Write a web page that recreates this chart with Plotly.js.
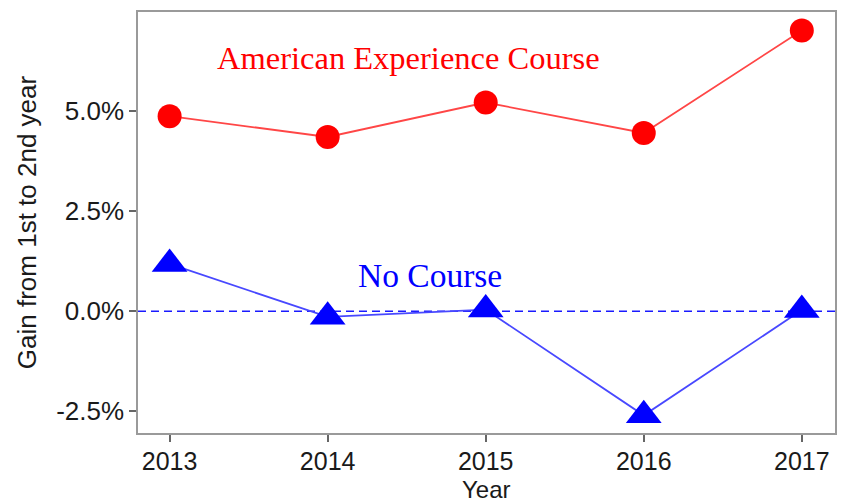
<!DOCTYPE html>
<html>
<head>
<meta charset="utf-8">
<script src="https://cdn.plot.ly/plotly-3.0.1.min.js"></script>
<style>html,body{margin:0;padding:0;background:#fff}#chart{width:847px;height:504px}</style>
</head>
<body>
<div id="chart"></div>
<script>
const years = [2013, 2014, 2015, 2016, 2017];
const courseGain = [4.87, 4.35, 5.21, 4.45, 7.01];
const noCourseGain = [1.18, -0.14, 0.04, -2.6, 0.03];
const yTickVals = [-2.5, 0, 2.5, 5];
const yTickText = ['-2.5%', '0.0%', '2.5%', '5.0%'];
const courseLabel = 'American Experience Course';
const noCourseLabel = 'No Course';
const xTitle = 'Year';
const yTitle = 'Gain from 1st to 2nd year';

const traces = [
  {x: years, y: courseGain, type: 'scatter', mode: 'lines+markers', name: courseLabel,
   line: {color: '#ff4646', width: 1.8},
   marker: {color: '#ff0000', size: 24, symbol: 'circle'}},
  {x: years, y: noCourseGain, type: 'scatter', mode: 'lines+markers', name: noCourseLabel,
   line: {color: '#4848ff', width: 1.8},
   marker: {color: '#0000ff', size: 31, symbol: 'triangle-up'}}
];

const tickFont = {family: 'Liberation Sans, Arial, sans-serif', size: 26, color: '#1a1a1a'};
const layout = {
  width: 847, height: 504,
  margin: {l: 138, r: 12, t: 12, b: 71},
  paper_bgcolor: '#fff', plot_bgcolor: '#fff',
  showlegend: false,
  xaxis: {range: [2012.8, 2017.21], tickvals: years, ticktext: years.map(String),
    showgrid: false, zeroline: false, showline: true, mirror: true,
    linecolor: '#9a9a9a', linewidth: 1.5, ticks: 'outside', ticklen: 7, tickwidth: 1.5, tickcolor: '#666',
    ticklabelstandoff: -2,
    tickfont: {family: 'Liberation Sans, Arial, sans-serif', size: 25, color: '#1a1a1a'}},
  yaxis: {range: [-3.04, 7.47], tickvals: yTickVals, ticktext: yTickText,
    showgrid: false, zeroline: false, showline: true, mirror: true,
    linecolor: '#9a9a9a', linewidth: 1.5, ticks: 'outside', ticklen: 7, tickwidth: 1.5, tickcolor: '#666',
    tickfont: tickFont,
    title: {text: yTitle, font: tickFont, standoff: 12}},
  shapes: [{type: 'line', xref: 'paper', x0: 0, x1: 1, yref: 'y', y0: 0, y1: 0,
    line: {color: '#1a1aff', width: 1.6, dash: '8px,5px'}, layer: 'below'}],
  annotations: [
    {x: 2014.51, y: 6.31, xref: 'x', yref: 'y', text: courseLabel, showarrow: false,
     font: {family: 'Liberation Serif, Times New Roman, serif', size: 32.5, color: '#ff0000'}},
    {x: 2014.65, y: 0.9, xref: 'x', yref: 'y', text: noCourseLabel, showarrow: false,
     font: {family: 'Liberation Serif, Times New Roman, serif', size: 33.5, color: '#0000ff'}},
    {x: 0.5, y: -0.168, xref: 'paper', yref: 'paper', text: xTitle, showarrow: false,
     xanchor: 'center', yanchor: 'bottom', borderpad: 0,
     font: {family: 'Liberation Sans, Arial, sans-serif', size: 24, color: '#1a1a1a'}}
  ]
};
Plotly.newPlot('chart', traces, layout, {displayModeBar: false});
</script>
</body>
</html>
